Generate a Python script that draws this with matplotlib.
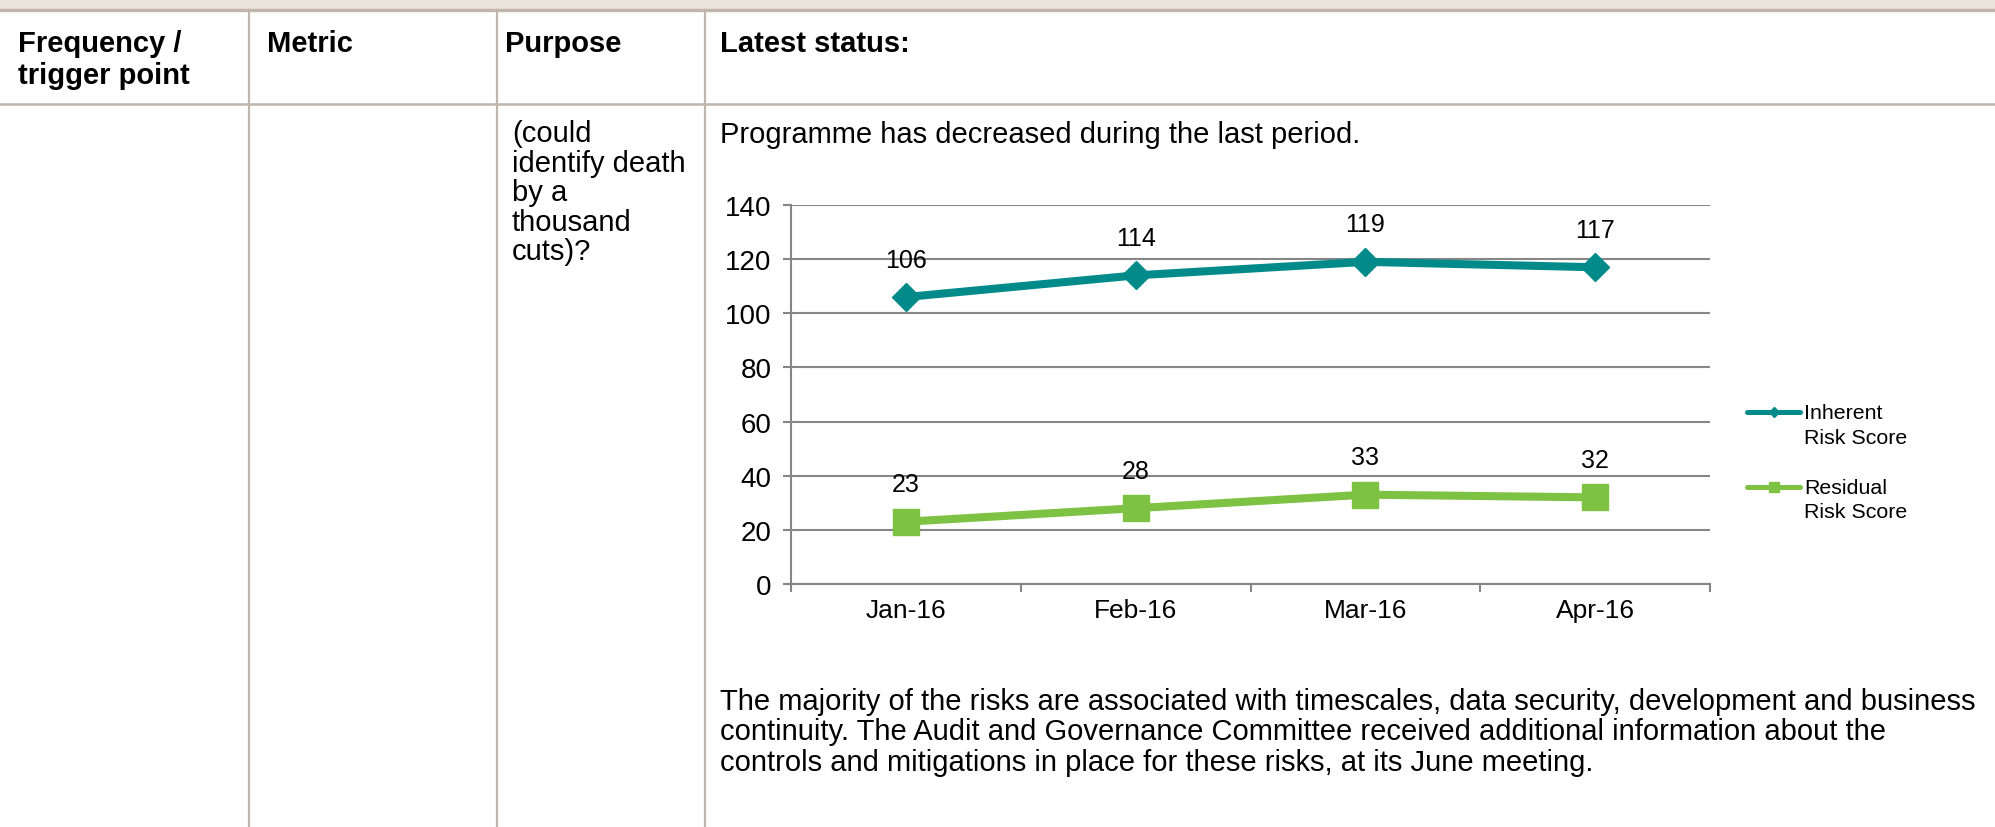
import matplotlib.pyplot as plt
from matplotlib.lines import Line2D
from matplotlib.patches import Rectangle

plt.rcParams['font.family'] = ['Liberation Sans', 'DejaVu Sans']

# Chart data
months = ['Jan-16', 'Feb-16', 'Mar-16', 'Apr-16']
inherent = [106, 114, 119, 117]
residual = [23, 28, 33, 32]
series_names = [['Inherent', 'Risk Score'], ['Residual', 'Risk Score']]
y_ticks = [0, 20, 40, 60, 80, 100, 120, 140]

# Table text
headers = [['Frequency /', 'trigger point'], ['Metric'], ['Purpose'], ['Latest status:']]
purpose_lines = ['(could', 'identify death', 'by a', 'thousand', 'cuts)?']
status_intro = 'Programme has decreased during the last period.'
status_notes = [
    'The majority of the risks are associated with timescales, data security, development and business',
    'continuity. The Audit and Governance Committee received additional information about the',
    'controls and mitigations in place for these risks, at its June meeting.',
]

teal = '#008B8A'
green = '#7DC242'
grid_gray = '#868686'
rule = '#BFB5AA'

W, H = 1995, 828
fig = plt.figure(figsize=(W / 100, H / 100), dpi=100)


def fx(px):
    return px / W


def fy(py):
    return 1 - py / H


# page furniture: beige band and table rules
fig.add_artist(Rectangle((0, fy(9.5)), 1, 9.5 / H, transform=fig.transFigure,
                         facecolor='#E8E3DB', edgecolor='none'))
fig.add_artist(Line2D([0, 1], [fy(11), fy(11)], transform=fig.transFigure, color=rule, lw=2.4))
fig.add_artist(Line2D([0, 1], [fy(105), fy(105)], transform=fig.transFigure, color=rule, lw=1.8))
for cx in [249, 497, 705]:
    fig.add_artist(Line2D([fx(cx), fx(cx)], [fy(11), 0], transform=fig.transFigure, color=rule, lw=1.6))

body_size = 21
col_x = [18, 267, 505, 720]
for xpos, lines in zip(col_x, headers):
    for i, s in enumerate(lines):
        fig.text(fx(xpos), fy(52 + i * 31.5), s, fontsize=body_size, fontweight='bold', va='baseline')

for i, s in enumerate(purpose_lines):
    fig.text(fx(512), fy(142 + i * 29.6), s, fontsize=body_size, va='baseline')

fig.text(fx(720), fy(143), status_intro, fontsize=body_size, va='baseline')
for i, s in enumerate(status_notes):
    fig.text(fx(720), fy(710 + i * 30.5), s, fontsize=body_size, va='baseline')

# embedded line chart
ax = fig.add_axes([fx(791), fy(585), fx(1710) - fx(791), fy(206) - fy(585)])
x = list(range(len(months)))
ax.plot(x, inherent, color=teal, lw=5.8, marker='D', ms=14, zorder=3)
ax.plot(x, residual, color=green, lw=5.8, marker='s', ms=19, zorder=3)

for xi, v in zip(x, inherent):
    ax.annotate(str(v), (xi, v), xytext=(0, 27), textcoords='offset points',
                ha='center', va='center', fontsize=18)
for xi, v in zip(x, residual):
    ax.annotate(str(v), (xi, v), xytext=(0, 27), textcoords='offset points',
                ha='center', va='center', fontsize=18)

ax.set_xlim(-0.5, len(months) - 0.5)
ax.set_ylim(0, 140)
ax.set_yticks(y_ticks)
ax.grid(axis='y', color=grid_gray, lw=1.5)
ax.set_axisbelow(True)
for side in ['top', 'right']:
    ax.spines[side].set_visible(False)
for side in ['left', 'bottom']:
    ax.spines[side].set_color(grid_gray)
    ax.spines[side].set_linewidth(1.5)

ax.set_xticks([i - 0.5 for i in range(len(months) + 1)])
ax.tick_params(axis='x', which='major', length=6, width=1.5, color=grid_gray, labelbottom=False)
ax.set_xticks(x, minor=True)
ax.set_xticklabels(months, minor=True, fontsize=19)
ax.tick_params(axis='x', which='minor', length=0, pad=10)
ax.tick_params(axis='y', length=6, width=1.5, color=grid_gray, labelsize=20, pad=8)

# legend drawn by hand so the key sits on the first label line, as in Excel
legend_styles = [(teal, 'D', 5), (green, 's', 7.5)]
for k, ((col, mk, msz), lines) in enumerate(zip(legend_styles, series_names)):
    y0 = 413 + k * 75
    fig.add_artist(Line2D([fx(1747), fx(1800)], [fy(y0), fy(y0)], transform=fig.transFigure,
                          color=col, lw=3.6, solid_capstyle='round'))
    fig.add_artist(Line2D([fx(1773.5)], [fy(y0)], transform=fig.transFigure,
                          color=col, marker=mk, ms=msz, lw=0))
    for j, s in enumerate(lines):
        fig.text(fx(1804), fy(y0 + 6.5 + j * 24), s, fontsize=15.4, va='baseline')

fig.savefig('out.png', dpi=100)
